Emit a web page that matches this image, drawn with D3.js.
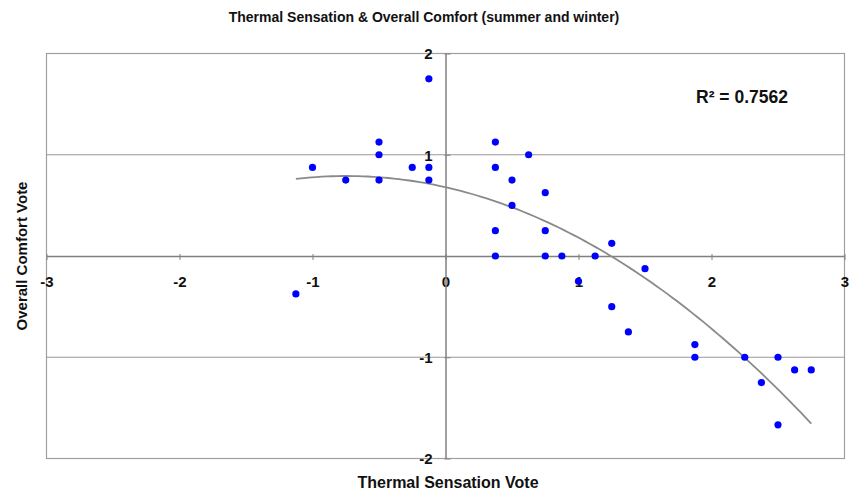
<!DOCTYPE html>
<html>
<head>
<meta charset="utf-8">
<script src="https://cdn.jsdelivr.net/npm/d3@7"></script>
<style>
  body { margin: 0; background: #fff; }
  text { font-family: "Liberation Sans", Arial, sans-serif; font-weight: bold; fill: #111; }
</style>
</head>
<body>
<svg id="main-svg" width="850" height="492"></svg>
<script>
// thermal sensation vote (x) and overall comfort vote (y)
var tsv = [-1.125, -1.0, -0.75, -0.5, -0.5, -0.5, -0.25, -0.125, -0.125, -0.125,
           0.375, 0.375, 0.375, 0.375, 0.5, 0.5, 0.625, 0.75, 0.75, 0.75,
           0.875, 1.0, 1.125, 1.25, 1.25, 1.375, 1.5, 1.875, 1.875, 2.25,
           2.375, 2.5, 2.5, 2.625, 2.75];
var ocv = [-0.375, 0.875, 0.75, 1.125, 1.0, 0.75, 0.875, 1.75, 0.875, 0.75,
           1.125, 0.875, 0.25, 0, 0.75, 0.5, 1.0, 0.625, 0.25, 0,
           0, -0.25, 0, 0.125, -0.5, -0.75, -0.125, -0.875, -1.0, -1.0,
           -1.25, -1.0, -1.667, -1.125, -1.125];
var xTicks = [-3, -2, -1, 0, 1, 2, 3];
var yTicks = [-2, -1, 0, 1, 2];
var rSquared = "0.7562";

var svg = d3.select("#main-svg");

var x = d3.scaleLinear().domain([-3, 3]).range([46.5, 844.5]);
var y = d3.scaleLinear().domain([-2, 2]).range([458.5, 53.5]);

// quadratic least squares fit (Excel poly trendline, order 2)
function polyFit(xs, ys) {
  var s = [0,0,0,0,0], t = [0,0,0];
  xs.forEach(function(xi, i){
    for (var k = 0; k < 5; k++) s[k] += Math.pow(xi, k);
    for (var k = 0; k < 3; k++) t[k] += ys[i] * Math.pow(xi, k);
  });
  var m = [[s[0], s[1], s[2], t[0]], [s[1], s[2], s[3], t[1]], [s[2], s[3], s[4], t[2]]];
  for (var i = 0; i < 3; i++) {
    for (var j = i + 1; j < 3; j++) {
      var f = m[j][i] / m[i][i];
      for (var k = i; k < 4; k++) m[j][k] -= f * m[i][k];
    }
  }
  var c = [0,0,0];
  for (var i = 2; i >= 0; i--) {
    var v = m[i][3];
    for (var k = i + 1; k < 3; k++) v -= m[i][k] * c[k];
    c[i] = v / m[i][i];
  }
  return c;
}
var coef = polyFit(tsv, ocv);

// plot area border
svg.append("rect")
   .attr("x", x(-3)).attr("y", y(2))
   .attr("width", x(3) - x(-3)).attr("height", y(-2) - y(2))
   .style("fill", "none").style("stroke", "#a0a0a0").style("stroke-width", 1.2);

// horizontal gridlines
svg.append("g").selectAll("line")
   .data(yTicks.filter(function(d){ return d != 0 && Math.abs(d) != 2; }))
   .enter().append("line")
   .attr("x1", x(-3)).attr("x2", x(3))
   .attr("y1", function(d){ return y(d); }).attr("y2", function(d){ return y(d); })
   .style("stroke", "#999").style("stroke-width", 1.2);

// x axis through y = 0
var xAxis = d3.axisBottom(x).tickValues(xTicks).tickSize(0).tickPadding(0).tickFormat(function(d){ return String(d); });
var gx = svg.append("g").attr("transform", "translate(0," + y(0) + ")").call(xAxis);
gx.select(".domain").style("stroke", "#808080").style("stroke-width", 1.5);
gx.selectAll(".tick").append("line")
  .attr("y1", -2).attr("y2", 4).style("stroke", "#808080");
gx.selectAll(".tick text")
  .attr("y", 31).attr("dy", 0)
  .style("font-size", "15px").style("fill", "#111");

// y axis through x = 0
var yAxis = d3.axisLeft(y).tickValues(yTicks).tickSize(0).tickPadding(0).tickFormat(function(d){ return String(d); });
var gy = svg.append("g").attr("transform", "translate(" + x(0) + ",0)").call(yAxis);
gy.select(".domain").style("stroke", "#808080").style("stroke-width", 1.5);
gy.selectAll(".tick").append("line")
  .attr("x1", -1).attr("x2", 5).style("stroke", "#808080");
gy.selectAll(".tick text")
  .attr("x", -13).attr("dy", "0.36em")
  .style("font-size", "15px").style("fill", "#111");
gy.selectAll(".tick").filter(function(d){ return d == 0; }).select("text").remove();
svg.selectAll(".tick text").style("font-family", "'Liberation Sans', Arial, sans-serif").style("font-weight", "bold");

// trend line
var xMin = d3.min(tsv), xMax = d3.max(tsv);
var curve = d3.range(0, 101).map(function(i){
  var xv = xMin + (xMax - xMin) * i / 100;
  return [xv, coef[0] + coef[1] * xv + coef[2] * xv * xv];
});
svg.append("path")
   .datum(curve)
   .attr("d", d3.line().x(function(d){ return x(d[0]); }).y(function(d){ return y(d[1]); }))
   .style("fill", "none").style("stroke", "#8a8a8a").style("stroke-width", 1.8);

// points
svg.append("g").selectAll("circle")
   .data(tsv.map(function(d, i){ return {tsv: d, ocv: ocv[i]}; }))
   .enter().append("circle")
   .attr("cx", function(d){ return x(d.tsv); })
   .attr("cy", function(d){ return y(d.ocv); })
   .attr("r", 3.6)
   .style("fill", "#0000ff");

// texts
svg.append("text")
   .attr("x", 424).attr("y", 22)
   .attr("text-anchor", "middle")
   .style("font-size", "14px")
   .text("Thermal Sensation & Overall Comfort (summer and winter)");

svg.append("text")
   .attr("x", 448).attr("y", 488)
   .attr("text-anchor", "middle")
   .style("font-size", "16px")
   .text("Thermal Sensation Vote");

svg.append("text")
   .attr("transform", "translate(27,256) rotate(-90)")
   .attr("text-anchor", "middle")
   .style("font-size", "15px")
   .text("Overall Comfort Vote");

svg.append("text")
   .attr("x", 696).attr("y", 103)
   .style("font-size", "17.5px")
   .text("R² = " + rSquared);
</script>
</body>
</html>
